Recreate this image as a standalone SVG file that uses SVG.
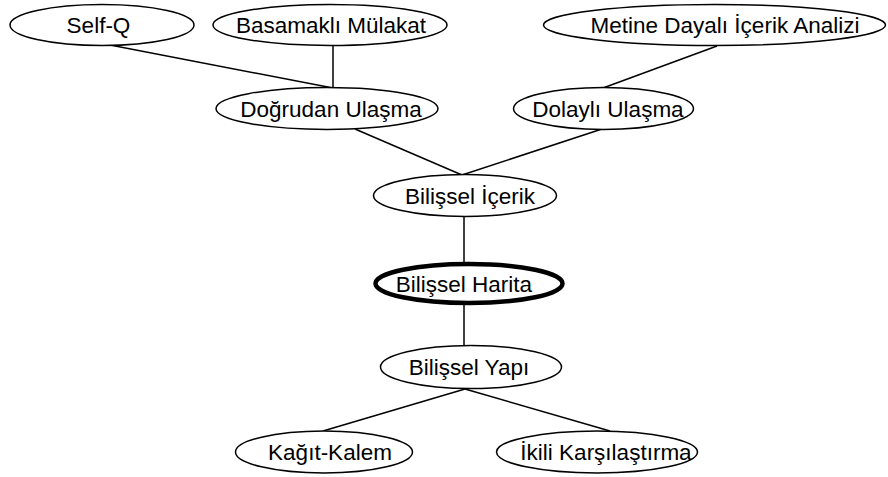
<svg xmlns="http://www.w3.org/2000/svg" width="888" height="477" viewBox="0 0 888 477">
<style>
.n{fill:#fff;stroke:#000;stroke-width:1.5}
.hb{fill:#fff;stroke:#000;stroke-width:4.5}
.t{font-family:"Liberation Sans",Arial,sans-serif;font-size:22.5px;fill:#000;text-anchor:middle}
.c line{stroke:#000;stroke-width:1.5}
</style>
<rect width="888" height="477" fill="#fff"/>
<g id="connectors" class="c">
<line x1="110" y1="45" x2="333" y2="88"/>
<line x1="333" y1="46" x2="333" y2="88"/>
<line x1="717" y1="46" x2="603" y2="88"/>
<line x1="355" y1="129" x2="462" y2="175"/>
<line x1="602" y1="129" x2="462" y2="175"/>
<line x1="464" y1="216" x2="464" y2="263"/>
<line x1="464" y1="303" x2="464" y2="346"/>
<line x1="465" y1="389" x2="323" y2="431"/>
<line x1="465" y1="389" x2="610" y2="431"/>
</g>
<g id="self-q"><ellipse class="n" cx="102" cy="25" rx="92" ry="20.5"/><text class="t" x="98.5" y="33">Self-Q</text></g>
<g id="basamakli-mulakat"><ellipse class="n" cx="330" cy="25" rx="117" ry="20.5"/><text class="t" x="331" y="33">Basamaklı Mülakat</text></g>
<g id="metine-dayali"><ellipse class="n" cx="714.5" cy="25" rx="171" ry="20.5"/><text class="t" x="725" y="33">Metine Dayalı İçerik Analizi</text></g>
<g id="dogrudan-ulasma"><ellipse class="n" cx="327" cy="108.5" rx="111" ry="21"/><text class="t" x="331" y="116.5">Doğrudan Ulaşma</text></g>
<g id="dolayli-ulasma"><ellipse class="n" cx="603.5" cy="108.5" rx="90" ry="21"/><text class="t" x="608" y="116.5">Dolaylı Ulaşma</text></g>
<g id="bilissel-icerik"><ellipse class="n" cx="465" cy="195.5" rx="91.5" ry="21"/><text class="t" x="470" y="203.5">Bilişsel İçerik</text></g>
<g id="bilissel-harita"><ellipse class="hb" cx="469" cy="283.5" rx="93.5" ry="19.5"/><text class="t" x="464" y="291.5">Bilişsel Harita</text></g>
<g id="bilissel-yapi"><ellipse class="n" cx="471" cy="367" rx="90.5" ry="21.5"/><text class="t" x="469" y="375">Bilişsel Yapı</text></g>
<g id="kagit-kalem"><ellipse class="n" cx="324" cy="452" rx="88.5" ry="21"/><text class="t" x="330" y="460">Kağıt-Kalem</text></g>
<g id="ikili-karsilastirma"><ellipse class="n" cx="597" cy="452" rx="100.5" ry="21"/><text class="t" x="606" y="460">İkili Karşılaştırma</text></g>
</svg>
